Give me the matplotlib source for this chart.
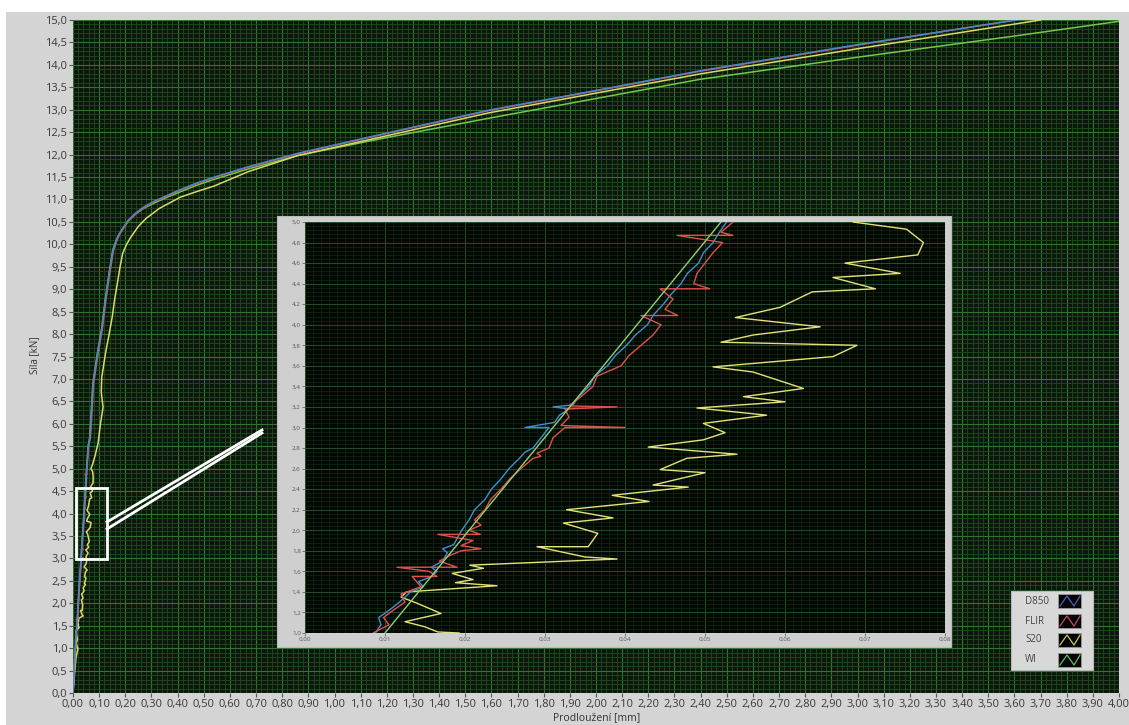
import matplotlib
matplotlib.use("Agg")
import matplotlib.pyplot as plt
from matplotlib.patches import Rectangle
from matplotlib.lines import Line2D
from matplotlib.ticker import MultipleLocator, FuncFormatter

plt.rcParams['font.family'] = ['Open Sans', 'DejaVu Sans']

# ---------------- data (x = Prodloužení [mm], y = Síla [kN]) ----------------
series_names = ["D850", "FLIR", "S20", "WI"]

d850_x = [0.0, 0.0088, 0.0095, 0.0092, 0.0105, 0.0118, 0.0125, 0.0132, 0.0148, 0.0142, 0.0158, 0.0165, 0.0158,
          0.0172, 0.0178, 0.0172, 0.0186, 0.019, 0.0196, 0.0205, 0.0212, 0.0225, 0.0233, 0.0245, 0.0255,
          0.0268, 0.0275, 0.0285, 0.0295, 0.0305, 0.0275, 0.0312, 0.0318, 0.0330, 0.0310, 0.0335, 0.0342,
          0.0355, 0.0362, 0.0378, 0.0388, 0.0402, 0.0413, 0.0428, 0.0436, 0.0448, 0.0458, 0.0470, 0.0478,
          0.0492, 0.0498, 0.0510, 0.0518, 0.0527,
          0.058, 0.065, 0.077, 0.095, 0.11, 0.125, 0.14, 0.153, 0.165, 0.175, 0.19, 0.21, 0.24, 0.27, 0.31,
          0.36, 0.41, 0.47, 0.54, 0.67, 0.86, 1.2, 1.59, 2.0, 2.4, 3.0, 3.61]
d850_y = [0.0, 1.0, 1.08, 1.15, 1.22, 1.3, 1.35, 1.4, 1.45, 1.5, 1.55, 1.6, 1.64,
          1.7, 1.78, 1.82, 1.86, 1.92, 2.0, 2.1, 2.2, 2.3, 2.4, 2.5, 2.6,
          2.7, 2.76, 2.8, 2.9, 3.0, 3.0, 3.05, 3.12, 3.18, 3.2, 3.22, 3.3,
          3.4, 3.5, 3.6, 3.7, 3.8, 3.9, 4.0, 4.1, 4.2, 4.3, 4.4, 4.5,
          4.6, 4.7, 4.8, 4.9, 5.0,
          5.5, 5.7, 6.9, 7.6, 8.1, 8.8, 9.4, 9.87, 10.08, 10.22, 10.36, 10.53, 10.70, 10.83, 10.96,
          11.09, 11.22, 11.36, 11.50, 11.73, 12.03, 12.48, 12.99, 13.43, 13.87, 14.45, 15.0]

flir_x = [0.0, 0.0085, 0.0105, 0.0098, 0.0110, 0.0125, 0.0120, 0.0145, 0.0134, 0.0165, 0.0155, 0.0115, 0.0190,
          0.0168, 0.0180, 0.0195, 0.0220, 0.0195, 0.0210, 0.0166, 0.0219, 0.0205, 0.0220, 0.0212, 0.0225,
          0.0232, 0.0245, 0.0256, 0.0270, 0.0285, 0.0295, 0.0290, 0.0305, 0.0310, 0.0325, 0.0400, 0.0320,
          0.0330, 0.0325, 0.0390, 0.0330, 0.0345, 0.0360, 0.0365, 0.0395, 0.0405, 0.0420, 0.0435, 0.0445,
          0.0420, 0.0466, 0.0450, 0.0460, 0.0444, 0.0506, 0.0486, 0.0490, 0.0500, 0.0510, 0.0522, 0.0465,
          0.0535, 0.0520, 0.0535,
          0.060, 0.067, 0.079, 0.097, 0.112, 0.127, 0.142, 0.155, 0.167, 0.177, 0.192, 0.212, 0.242, 0.272,
          0.312, 0.362, 0.412, 0.472, 0.542, 0.672, 0.862, 1.2, 1.59, 2.0, 2.4, 3.0, 3.60]
flir_y = [0.0, 1.0, 1.08, 1.15, 1.22, 1.3, 1.38, 1.45, 1.55, 1.55, 1.6, 1.64, 1.64,
          1.7, 1.75, 1.8, 1.82, 1.85, 1.9, 1.96, 1.96, 2.0, 2.05, 2.1, 2.2,
          2.3, 2.4, 2.5, 2.6, 2.7, 2.72, 2.75, 2.8, 2.9, 3.0, 3.0, 3.02,
          3.1, 3.18, 3.2, 3.21, 3.3, 3.4, 3.5, 3.6, 3.7, 3.8, 3.9, 4.0,
          4.09, 4.09, 4.15, 4.25, 4.35, 4.35, 4.4, 4.5, 4.6, 4.7, 4.8, 4.87,
          4.87, 4.9, 5.0,
          5.5, 5.7, 6.9, 7.6, 8.1, 8.8, 9.4, 9.87, 10.07, 10.21, 10.35, 10.52, 10.69, 10.82,
          10.95, 11.08, 11.21, 11.35, 11.49, 11.72, 12.02, 12.47, 12.98, 13.42, 13.86, 14.44, 15.0]

s20_x = [0.0, 0.004, 0.008, 0.012, 0.0193, 0.0166, 0.0150, 0.0125, 0.0170, 0.0140, 0.0120, 0.0127, 0.0240,
         0.0188, 0.0210, 0.0184, 0.0223, 0.0206, 0.0390, 0.0350, 0.0290, 0.0354, 0.0366, 0.0323, 0.0385,
         0.0327, 0.0430, 0.0384, 0.0479, 0.0435, 0.0500, 0.0444, 0.0477, 0.0540, 0.0429, 0.0498, 0.0525,
         0.0498, 0.0577, 0.0490, 0.0600, 0.0548, 0.0623, 0.0560, 0.0510, 0.0660, 0.0690, 0.0520, 0.0560,
         0.0644, 0.0538, 0.0594, 0.0634, 0.0713, 0.0660, 0.0744, 0.0675, 0.0766, 0.0773, 0.0752, 0.0685,
         0.075, 0.085, 0.096, 0.105, 0.115, 0.108, 0.110, 0.125, 0.135, 0.150, 0.160, 0.170, 0.180, 0.190,
         0.205, 0.22, 0.25, 0.28, 0.33, 0.41, 0.47, 0.54, 0.67, 0.86, 1.2, 1.59, 2.0, 2.4, 3.0, 3.70]
s20_y = [0.0, 0.3, 0.58, 0.8, 1.0, 1.01, 1.06, 1.11, 1.19, 1.29, 1.35, 1.40, 1.46,
         1.49, 1.52, 1.58, 1.63, 1.66, 1.72, 1.74, 1.84, 1.84, 1.97, 2.07, 2.12,
         2.20, 2.28, 2.34, 2.42, 2.44, 2.56, 2.59, 2.70, 2.74, 2.81, 2.88, 2.95,
         3.04, 3.12, 3.19, 3.25, 3.30, 3.38, 3.54, 3.59, 3.69, 3.80, 3.83, 3.90,
         3.98, 4.07, 4.17, 4.32, 4.35, 4.46, 4.50, 4.60, 4.68, 4.80, 4.93, 5.0,
         5.1, 5.3, 5.57, 6.0, 6.37, 6.7, 7.04, 7.6, 7.9, 8.38, 8.8, 9.14, 9.5, 9.8,
         10.0, 10.15, 10.4, 10.58, 10.8, 11.05, 11.17, 11.30, 11.62, 11.98, 12.42, 12.93, 13.37, 13.80, 14.36, 15.0]

wi_x = [0.0, 0.010, 0.052, 0.058, 0.064, 0.076, 0.094, 0.109, 0.124, 0.139, 0.152, 0.164, 0.175, 0.19, 0.21,
        0.24, 0.27, 0.31, 0.36, 0.41, 0.47, 0.54, 0.67, 0.86, 1.2, 1.59, 2.0, 2.4, 3.0, 3.61, 4.0]
wi_y = [0.0, 1.0, 5.0, 5.5, 5.7, 6.9, 7.6, 8.1, 8.8, 9.4, 9.87, 10.07, 10.2, 10.34, 10.51,
        10.68, 10.80, 10.92, 11.05, 11.17, 11.31, 11.45, 11.68, 11.98, 12.38, 12.81, 13.25, 13.68, 14.17, 14.65, 14.97]

x_label = "Prodloužení [mm]"
y_label = "Síla [kN]"

colors = {"D850": "#4a86c8", "FLIR": "#d9474a", "S20": "#d9d96a", "WI": "#72c84a"}
legend_swatch = {"D850": "#4a5fc0", "FLIR": "#c04a5a", "S20": "#c8c860", "WI": "#5cc060"}

data = {"D850": (d850_x, d850_y), "FLIR": (flir_x, flir_y), "S20": (s20_x, s20_y), "WI": (wi_x, wi_y)}
draw_order = ["WI", "S20", "FLIR", "D850"]

# ---------------- figure ----------------
W, H = 1129, 725
fig = plt.figure(figsize=(W / 100, H / 100), dpi=100, facecolor="white")


def fx(px):
    return px / W


def fy(py):
    return 1 - py / H


# grey panel
fig.patches.append(Rectangle((fx(6), 0), 1 - fx(6), fy(12), transform=fig.transFigure,
                             facecolor="#d4d4d4", edgecolor="none", zorder=-5))

comma = lambda fmt: FuncFormatter(lambda v, p: (fmt % v).replace(".", ","))

# main axes
ax = fig.add_axes([fx(73), fy(693), fx(1119) - fx(73), fy(20) - fy(693)])
ax.set_facecolor("#0b170b")
ax.set_xlim(0, 4.0)
ax.set_ylim(0, 15.0)
ax.xaxis.set_major_locator(MultipleLocator(0.1))
ax.xaxis.set_minor_locator(MultipleLocator(0.02))
ax.yaxis.set_major_locator(MultipleLocator(0.5))
ax.yaxis.set_minor_locator(MultipleLocator(0.1))
ax.xaxis.set_major_formatter(comma("%.2f"))
ax.yaxis.set_major_formatter(comma("%.1f"))
ax.grid(which="minor", color="#214a21", lw=0.6)
ax.grid(which="major", color="#317431", lw=0.8)
ax.set_axisbelow(True)
ax.tick_params(which="major", length=3, width=0.8, color="#555555", labelsize=8, labelcolor="#3a3a3a", pad=1)
ax.tick_params(which="minor", length=0)
for s in ax.spines.values():
    s.set_visible(False)
for name in draw_order:
    x, y = data[name]
    ax.plot(x, y, color=colors[name], lw=1.1)

# zoom rectangle
ax.add_patch(Rectangle((0.011, 2.99), 0.119, 1.58, facecolor="none", edgecolor="white", lw=2, zorder=5))

fig.text(fx(35), fy(355), y_label, rotation=90, ha="center", va="center", fontsize=7, color="#333333")
fig.text(fx(597), fy(718), x_label, ha="center", va="center", fontsize=7.5, color="#333333")

# connector lines
fig.lines.append(Line2D([fx(107), fx(262)], [fy(522), fy(430)], transform=fig.transFigure, color="white", lw=2, zorder=3))
fig.lines.append(Line2D([fx(107), fx(262)], [fy(529), fy(433)], transform=fig.transFigure, color="white", lw=2, zorder=3))

# inset frame
fig.patches.append(Rectangle((fx(277), fy(647)), fx(951) - fx(277), fy(216) - fy(647), transform=fig.transFigure,
                             facecolor="#cfcfcf", edgecolor="#bbbbbb", lw=0.8, zorder=4))

ins = fig.add_axes([fx(305), fy(633), fx(945) - fx(305), fy(222) - fy(633)])
ins.set_zorder(6)
ins.set_facecolor("#040804")
ins.set_xlim(0, 0.08)
ins.set_ylim(1.0, 5.0)
ins.xaxis.set_major_locator(MultipleLocator(0.01))
ins.xaxis.set_minor_locator(MultipleLocator(0.001))
ins.yaxis.set_major_locator(MultipleLocator(0.2))
ins.yaxis.set_minor_locator(MultipleLocator(0.04))
ins.xaxis.set_major_formatter(comma("%.2f"))
ins.yaxis.set_major_formatter(comma("%.1f"))
ins.grid(which="minor", color="#122812", lw=0.5)
ins.grid(which="major", color="#23502a", lw=0.7)
ins.set_axisbelow(True)
ins.tick_params(which="major", length=2, width=0.6, color="#666666", labelsize=4.5, labelcolor="#555555", pad=1)
ins.tick_params(which="minor", length=0)
for s in ins.spines.values():
    s.set_visible(False)
inset_colors = {"D850": "#3f8fd0", "FLIR": "#e0504c", "S20": "#e2e27a", "WI": "#8ed070"}
for name in ["S20", "D850", "FLIR", "WI"]:
    x, y = data[name]
    ins.plot(x, y, color=inset_colors[name], lw=1.0)

# legend (manual, LabVIEW style)
fig.patches.append(Rectangle((fx(1011), fy(670)), fx(1093) - fx(1011), fy(591) - fy(670), transform=fig.transFigure,
                             facecolor="#d8d8d8", edgecolor="#b8b8b8", lw=0.8, zorder=7))
rows = [601, 621, 640, 660]
for name, ry in zip(series_names, rows):
    fig.text(fx(1025), fy(ry), name, ha="left", va="center", fontsize=7, color="#444444", zorder=8)
    fig.patches.append(Rectangle((fx(1058), fy(ry + 7)), fx(1081) - fx(1058), fy(ry - 7) - fy(ry + 7),
                                 transform=fig.transFigure, facecolor="#050505", edgecolor="#999999", lw=0.6, zorder=8))
    zx = [1060, 1067, 1074, 1080]
    zy = [ry + 5, ry - 5, ry + 5, ry - 5]
    fig.lines.append(Line2D([fx(v) for v in zx], [fy(v) for v in zy], transform=fig.transFigure,
                            color=legend_swatch[name], lw=0.9, zorder=9))

fig.savefig("out.png", dpi=100, facecolor=fig.get_facecolor())
